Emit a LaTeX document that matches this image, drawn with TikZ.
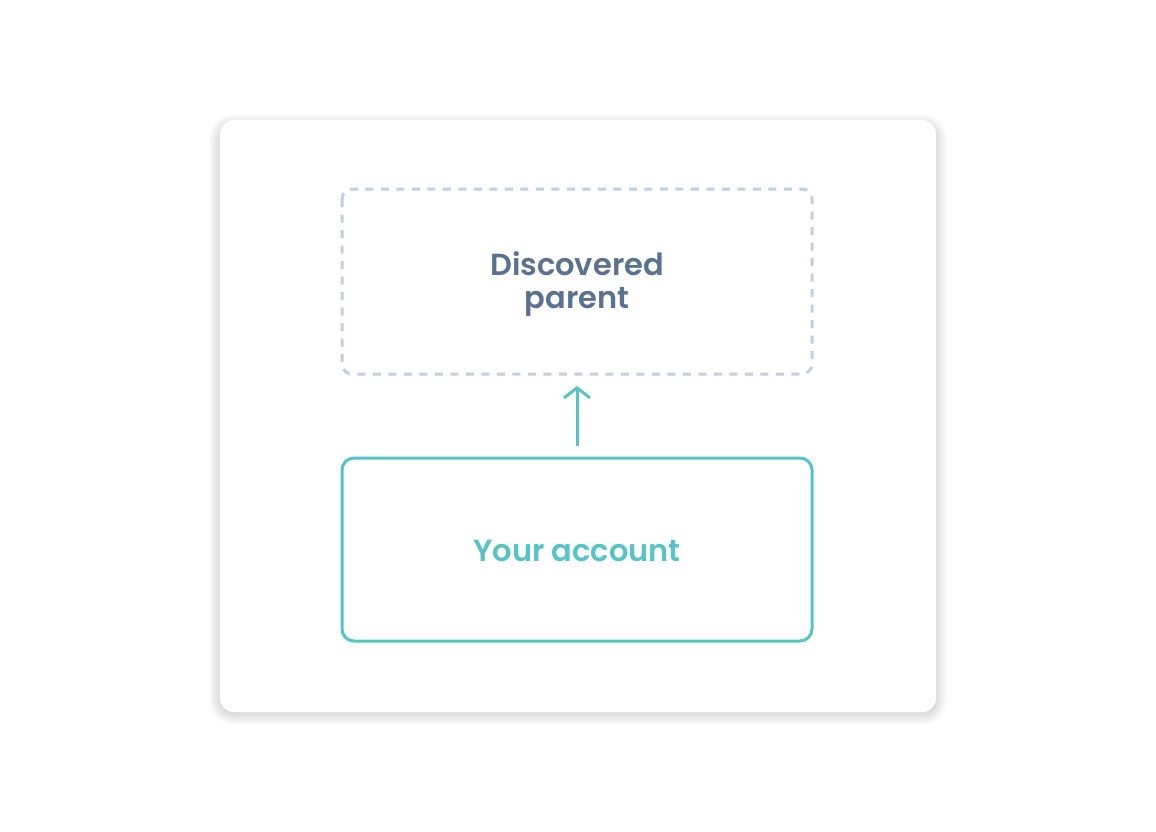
\documentclass[tikz,border=0pt]{standalone}
\usepackage{fontspec}
\IfFontExistsTF{Poppins SemiBold}{\setmainfont{Poppins}[BoldFont={Poppins SemiBold}]}{\setmainfont{Poppins}}
\usetikzlibrary{arrows.meta}
\definecolor{dashcol}{HTML}{C3CEE0}
\definecolor{teal}{HTML}{56C4C5}
\definecolor{slate}{HTML}{5A7190}
\tikzset{
  card/.style={fill=white, rounded corners=14pt},
  shadowlayer/.style={fill=black, fill opacity=0.012},
  ghostbox/.style={draw=dashcol, line width=3pt, rounded corners=10pt, dash pattern=on 8pt off 7.5pt, line cap=butt},
  tealbox/.style={draw=teal, line width=3pt, rounded corners=12pt},
  lbl/.style={font=\fontsize{30.5}{33}\selectfont\bfseries, align=center},
  uparrow/.style={draw=teal, line width=3pt, -{Straight Barb[length=10pt, width=26pt, line width=3pt]}}
}
\begin{document}
\begin{tikzpicture}[x=1pt,y=-1pt]
\useasboundingbox (0,0) rectangle (1156,832);
\fill[white] (0,0) rectangle (1156,832);
\foreach \i in {1,...,11} {
  \fill[shadowlayer, rounded corners={14pt+\i pt}] (220-\i,120-\i+5) rectangle (936+\i,712+\i+2);
}
\path[card] (220,120) rectangle (936,712);
\draw[ghostbox] (342,189) rectangle (812,374);
\node[lbl, text=slate] (parent) at (577,284) {Discovered\\parent};
\draw[tealbox] (342,458) rectangle (812,641);
\node[lbl, text=teal] (acct) at (577,551) {Your account};
\coordinate (parentbottom) at (577,386);
\coordinate (acctTop) at (577,446);
\draw[uparrow] (acctTop) -- (parentbottom);
\end{tikzpicture}
\end{document}
